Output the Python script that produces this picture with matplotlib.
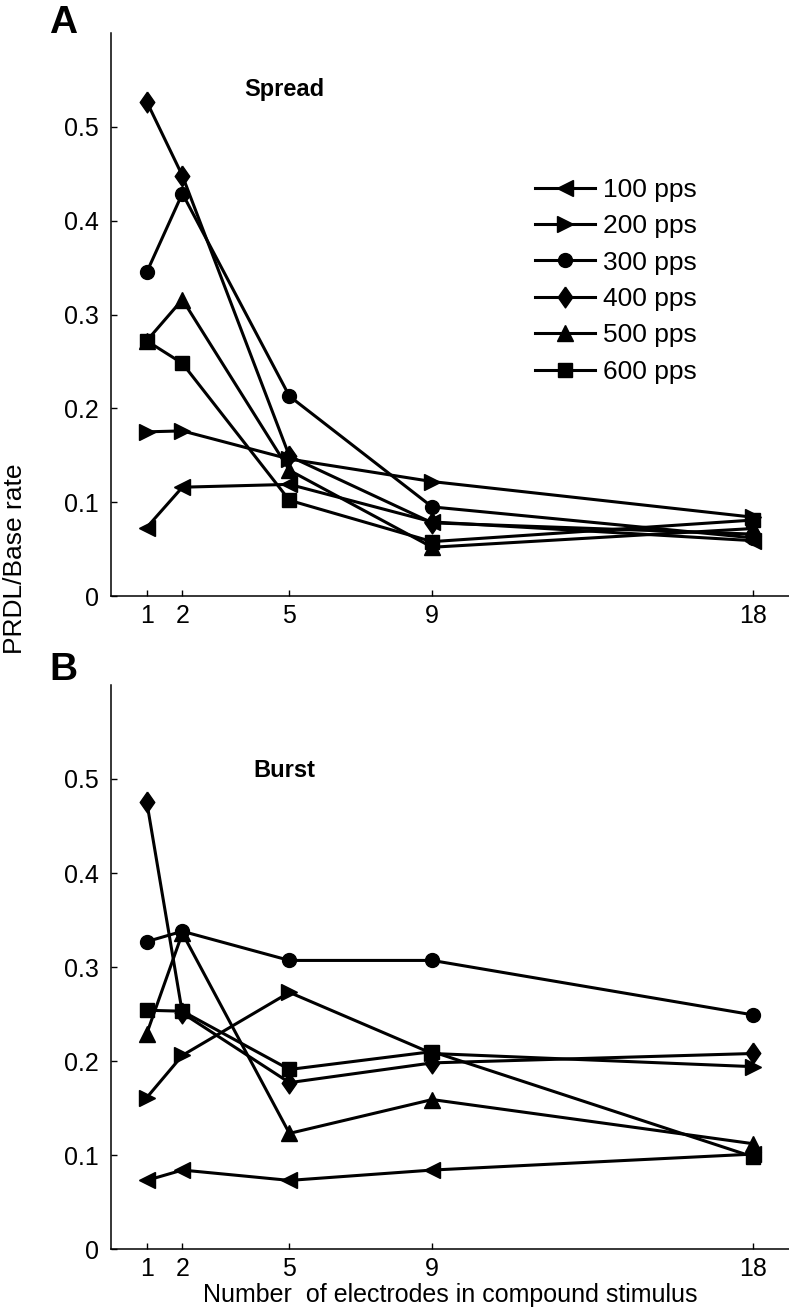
import matplotlib.pyplot as plt

plt.rcParams['font.family'] = ['Liberation Sans', 'DejaVu Sans']

# Number of electrodes (x positions)
electrodes = [1, 2, 5, 9, 18]
rate_labels = ['100 pps', '200 pps', '300 pps', '400 pps', '500 pps', '600 pps']

# Panel A - Spread
spread_100 = [0.073, 0.116, 0.119, 0.079, 0.059]
spread_200 = [0.175, 0.176, 0.146, 0.122, 0.084]
spread_300 = [0.345, 0.429, 0.213, 0.095, 0.062]
spread_400 = [0.527, 0.448, 0.149, 0.078, 0.066]
spread_500 = [0.272, 0.316, 0.134, 0.052, 0.072]
spread_600 = [0.272, 0.248, 0.102, 0.058, 0.081]

# Panel B - Burst
burst_100 = [0.073, 0.084, 0.073, 0.084, 0.101]
burst_200 = [0.161, 0.206, 0.273, 0.208, 0.194]
burst_300 = [0.327, 0.338, 0.307, 0.307, 0.249]
burst_400 = [0.476, 0.251, 0.177, 0.198, 0.208]
burst_500 = [0.229, 0.336, 0.123, 0.159, 0.112]
burst_600 = [0.254, 0.253, 0.191, 0.210, 0.098]

yticks = [0, 0.1, 0.2, 0.3, 0.4, 0.5]
ytick_labels = ['0', '0.1', '0.2', '0.3', '0.4', '0.5']

# diamond a bit narrower than tall, like the original
diamond = [(0, 1), (0.7, 0), (0, -1), (-0.7, 0), (0, 1)]
markers = ['<', '>', 'o', diamond, '^', 's']
msizes = [12, 12, 10, 15, 12, 9.5]


def draw_panel(ax, series, title, title_y):
    for vals, lab, m, ms in zip(series, rate_labels, markers, msizes):
        ax.plot(electrodes, vals, color='black', lw=2.2, marker=m, ms=ms,
                label=lab)
    ax.set_xlim(0, 19)
    ax.set_ylim(0, 0.6)
    ax.set_xticks(electrodes)
    ax.set_yticks(yticks)
    ax.set_yticklabels(ytick_labels)
    ax.spines['top'].set_visible(False)
    ax.spines['right'].set_visible(False)
    ax.spines['left'].set_linewidth(1.1)
    ax.spines['bottom'].set_linewidth(1.1)
    ax.tick_params(direction='in', length=4, width=1, labelsize=18)
    ax.tick_params(axis='y', pad=9)
    ax.tick_params(axis='x', pad=6)
    ax.text(0.255, title_y, title, transform=ax.transAxes, ha='center',
            va='center', fontsize=17, fontweight='bold')


fig = plt.figure(figsize=(7.89, 13.12), dpi=100)
ax_a = fig.add_axes([0.1407, 0.5457, 0.8593, 0.4291])
ax_b = fig.add_axes([0.1407, 0.0480, 0.8593, 0.4299])

draw_panel(ax_a, [spread_100, spread_200, spread_300, spread_400,
                  spread_500, spread_600], 'Spread', 0.899)
draw_panel(ax_b, [burst_100, burst_200, burst_300, burst_400,
                  burst_500, burst_600], 'Burst', 0.849)

ax_a.legend(loc='upper left', bbox_to_anchor=(0.625, 0.743), frameon=False,
            fontsize=19, numpoints=1, handlelength=2.27, handletextpad=0.3,
            labelspacing=0.47, borderpad=0, borderaxespad=0)

ax_b.set_xlabel('Number  of electrodes in compound stimulus', fontsize=18,
                labelpad=1)

fig.text(0.004, 0.574, 'PRDL/Base rate', rotation=90, ha='left',
         va='center', fontsize=19)
fig.text(0.062, 0.996, 'A', ha='left', va='top', fontsize=28,
         fontweight='bold')
fig.text(0.062, 0.503, 'B', ha='left', va='top', fontsize=28,
         fontweight='bold')

fig.savefig('out.png', dpi=100)
